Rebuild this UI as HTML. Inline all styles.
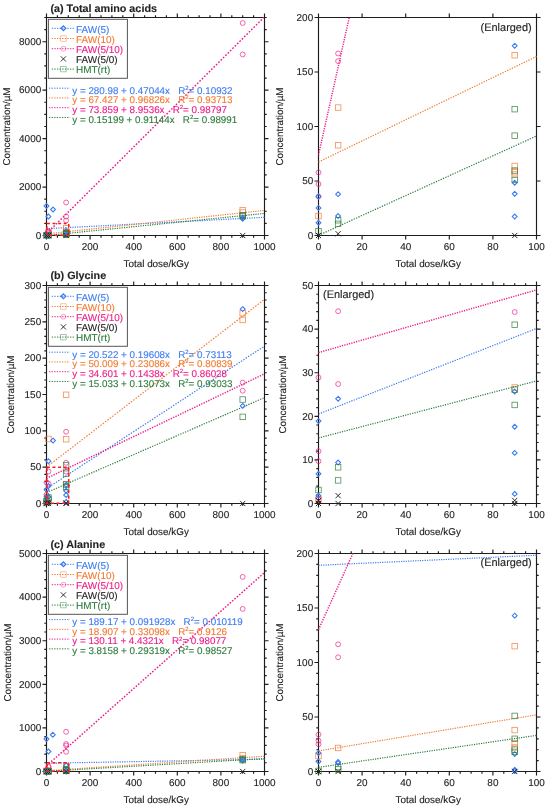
<!DOCTYPE html>
<html><head><meta charset="utf-8"><title>Figure</title>
<style>html,body{margin:0;padding:0;background:#fff;}svg{display:block;filter:blur(0.3px);font-family:"Liberation Sans", sans-serif;}</style>
</head><body>
<svg width="550" height="809" viewBox="0 0 550 809" style="font-family:&quot;Liberation Sans&quot;, sans-serif" font-size="9.95" fill="#222" color="#222">
<style>text{stroke:currentColor;stroke-width:0.12px;paint-order:stroke;text-rendering:geometricPrecision;}</style>
<rect width="550" height="809" fill="#fff"/>
<text x="50.4" y="11.8" font-weight="bold" font-size="10.8">(a) Total amino acids</text>
<path d="M46.5 235.5H264.5M46.5 17.5H264.5M46.5 235.5V17.5M264.5 235.5V17.5M46.5 235.5v4M46.5 17.5v-4M57.4 235.5v2.2M57.4 17.5v-2.2M68.3 235.5v2.2M68.3 17.5v-2.2M79.2 235.5v2.2M79.2 17.5v-2.2M90.1 235.5v4M90.1 17.5v-4M101 235.5v2.2M101 17.5v-2.2M111.9 235.5v2.2M111.9 17.5v-2.2M122.8 235.5v2.2M122.8 17.5v-2.2M133.7 235.5v4M133.7 17.5v-4M144.6 235.5v2.2M144.6 17.5v-2.2M155.5 235.5v2.2M155.5 17.5v-2.2M166.4 235.5v2.2M166.4 17.5v-2.2M177.3 235.5v4M177.3 17.5v-4M188.2 235.5v2.2M188.2 17.5v-2.2M199.1 235.5v2.2M199.1 17.5v-2.2M210 235.5v2.2M210 17.5v-2.2M220.9 235.5v4M220.9 17.5v-4M231.8 235.5v2.2M231.8 17.5v-2.2M242.7 235.5v2.2M242.7 17.5v-2.2M253.6 235.5v2.2M253.6 17.5v-2.2M264.5 235.5v4M264.5 17.5v-4M46.5 235.5h-4M264.5 235.5h4M46.5 223.39h-2.2M264.5 223.39h2.2M46.5 211.28h-2.2M264.5 211.28h2.2M46.5 199.17h-2.2M264.5 199.17h2.2M46.5 187.06h-4M264.5 187.06h4M46.5 174.94h-2.2M264.5 174.94h2.2M46.5 162.83h-2.2M264.5 162.83h2.2M46.5 150.72h-2.2M264.5 150.72h2.2M46.5 138.61h-4M264.5 138.61h4M46.5 126.5h-2.2M264.5 126.5h2.2M46.5 114.39h-2.2M264.5 114.39h2.2M46.5 102.28h-2.2M264.5 102.28h2.2M46.5 90.17h-4M264.5 90.17h4M46.5 78.06h-2.2M264.5 78.06h2.2M46.5 65.94h-2.2M264.5 65.94h2.2M46.5 53.83h-2.2M264.5 53.83h2.2M46.5 41.72h-4M264.5 41.72h4M46.5 29.61h-2.2M264.5 29.61h2.2M46.5 17.5h-2.2M264.5 17.5h2.2" stroke="#1c1c1c" stroke-width="1.15" fill="none"/>
<text x="46.5" y="250.1" text-anchor="middle">0</text>
<text x="90.1" y="250.1" text-anchor="middle">200</text>
<text x="133.7" y="250.1" text-anchor="middle">400</text>
<text x="177.3" y="250.1" text-anchor="middle">600</text>
<text x="220.9" y="250.1" text-anchor="middle">800</text>
<text x="264.5" y="250.1" text-anchor="middle">1000</text>
<text x="41.2" y="238.7" text-anchor="end">0</text>
<text x="41.2" y="190.26" text-anchor="end">2000</text>
<text x="41.2" y="141.81" text-anchor="end">4000</text>
<text x="41.2" y="93.37" text-anchor="end">6000</text>
<text x="41.2" y="44.92" text-anchor="end">8000</text>
<text x="156.2" y="266.6" text-anchor="middle" font-size="9.9">Total dose/kGy</text>
<text transform="translate(10.4 126.5) rotate(-90)" text-anchor="middle" font-size="9.9">Concentration/µM</text>
<line x1="46.5" y1="228.69" x2="264.5" y2="217.3" stroke="#3c7cf0" stroke-width="1.2" stroke-dasharray="1.18 1.18"/>
<line x1="46.5" y1="233.87" x2="264.5" y2="210.41" stroke="#f47a30" stroke-width="1.2" stroke-dasharray="1.18 1.18"/>
<line x1="46.5" y1="233.71" x2="263.83" y2="17.5" stroke="#ee1c88" stroke-width="1.45" stroke-dasharray="1.66 1.66"/>
<line x1="46.5" y1="235.5" x2="264.5" y2="213.42" stroke="#2c7c3c" stroke-width="1.2" stroke-dasharray="1.18 1.18"/>
<rect x="43.75" y="232.32" width="5.5" height="5.5" stroke="#f47a30" stroke-width="0.8" fill="none" opacity="0.85"/>
<rect x="45.71" y="229.91" width="5.5" height="5.5" stroke="#f47a30" stroke-width="0.8" fill="none" opacity="0.85"/>
<rect x="45.71" y="230.74" width="5.5" height="5.5" stroke="#f47a30" stroke-width="0.8" fill="none" opacity="0.85"/>
<rect x="63.37" y="228.74" width="5.5" height="5.5" stroke="#f47a30" stroke-width="0.8" fill="none" opacity="0.85"/>
<rect x="63.37" y="231.2" width="5.5" height="5.5" stroke="#f47a30" stroke-width="0.8" fill="none" opacity="0.85"/>
<rect x="63.37" y="231.35" width="5.5" height="5.5" stroke="#f47a30" stroke-width="0.8" fill="none" opacity="0.85"/>
<rect x="63.37" y="231.39" width="5.5" height="5.5" stroke="#f47a30" stroke-width="0.8" fill="none" opacity="0.85"/>
<rect x="63.37" y="225.48" width="5.5" height="5.5" stroke="#f47a30" stroke-width="0.8" fill="none" opacity="0.85"/>
<rect x="239.95" y="207.44" width="5.5" height="5.5" stroke="#f47a30" stroke-width="0.8" fill="none" opacity="0.85"/>
<rect x="239.95" y="209.74" width="5.5" height="5.5" stroke="#f47a30" stroke-width="0.8" fill="none" opacity="0.85"/>
<circle cx="46.5" cy="234.1" r="2.45" stroke="#ee1c88" stroke-width="0.8" fill="none" opacity="0.85"/>
<circle cx="46.5" cy="234.36" r="2.45" stroke="#ee1c88" stroke-width="0.8" fill="none" opacity="0.85"/>
<circle cx="46.5" cy="234.63" r="2.45" stroke="#ee1c88" stroke-width="0.8" fill="none" opacity="0.85"/>
<circle cx="48.46" cy="231.45" r="2.45" stroke="#ee1c88" stroke-width="0.8" fill="none" opacity="0.85"/>
<circle cx="48.46" cy="231.62" r="2.45" stroke="#ee1c88" stroke-width="0.8" fill="none" opacity="0.85"/>
<circle cx="66.12" cy="202.51" r="2.45" stroke="#ee1c88" stroke-width="0.8" fill="none" opacity="0.85"/>
<circle cx="66.12" cy="216.51" r="2.45" stroke="#ee1c88" stroke-width="0.8" fill="none" opacity="0.85"/>
<circle cx="66.12" cy="220.51" r="2.45" stroke="#ee1c88" stroke-width="0.8" fill="none" opacity="0.85"/>
<circle cx="242.7" cy="23" r="2.45" stroke="#ee1c88" stroke-width="0.8" fill="none" opacity="0.85"/>
<circle cx="242.7" cy="54.49" r="2.45" stroke="#ee1c88" stroke-width="0.8" fill="none" opacity="0.85"/>
<path d="M46.5 203.6l2.4 2.4l-2.4 2.4l-2.4 -2.4z" stroke="#3c7cf0" stroke-width="1.1" fill="none"/>
<path d="M46.5 232.23l2.4 2.4l-2.4 2.4l-2.4 -2.4z" stroke="#3c7cf0" stroke-width="1.1" fill="none"/>
<path d="M46.5 232.49l2.4 2.4l-2.4 2.4l-2.4 -2.4z" stroke="#3c7cf0" stroke-width="1.1" fill="none"/>
<path d="M46.5 232.82l2.4 2.4l-2.4 2.4l-2.4 -2.4z" stroke="#3c7cf0" stroke-width="1.1" fill="none"/>
<path d="M48.46 214.11l2.4 2.4l-2.4 2.4l-2.4 -2.4z" stroke="#3c7cf0" stroke-width="1.1" fill="none"/>
<path d="M48.46 232.18l2.4 2.4l-2.4 2.4l-2.4 -2.4z" stroke="#3c7cf0" stroke-width="1.1" fill="none"/>
<path d="M48.46 232.67l2.4 2.4l-2.4 2.4l-2.4 -2.4z" stroke="#3c7cf0" stroke-width="1.1" fill="none"/>
<path d="M53.04 207.11l2.4 2.4l-2.4 2.4l-2.4 -2.4z" stroke="#3c7cf0" stroke-width="1.1" fill="none"/>
<path d="M66.12 228.89l2.4 2.4l-2.4 2.4l-2.4 -2.4z" stroke="#3c7cf0" stroke-width="1.1" fill="none"/>
<path d="M66.12 231.93l2.4 2.4l-2.4 2.4l-2.4 -2.4z" stroke="#3c7cf0" stroke-width="1.1" fill="none"/>
<path d="M66.12 232.17l2.4 2.4l-2.4 2.4l-2.4 -2.4z" stroke="#3c7cf0" stroke-width="1.1" fill="none"/>
<path d="M66.12 232.68l2.4 2.4l-2.4 2.4l-2.4 -2.4z" stroke="#3c7cf0" stroke-width="1.1" fill="none"/>
<path d="M242.7 215.01l2.4 2.4l-2.4 2.4l-2.4 -2.4z" stroke="#3c7cf0" stroke-width="1.1" fill="none"/>
<path d="M242.7 216.39l2.4 2.4l-2.4 2.4l-2.4 -2.4z" stroke="#3c7cf0" stroke-width="1.1" fill="none"/>
<rect x="43.75" y="232.65" width="5.5" height="5.5" stroke="#2c7c3c" stroke-width="0.8" fill="none" opacity="0.85"/>
<rect x="45.71" y="232.41" width="5.5" height="5.5" stroke="#2c7c3c" stroke-width="0.8" fill="none" opacity="0.85"/>
<rect x="45.71" y="232.49" width="5.5" height="5.5" stroke="#2c7c3c" stroke-width="0.8" fill="none" opacity="0.85"/>
<rect x="63.37" y="229.94" width="5.5" height="5.5" stroke="#2c7c3c" stroke-width="0.8" fill="none" opacity="0.85"/>
<rect x="63.37" y="230.53" width="5.5" height="5.5" stroke="#2c7c3c" stroke-width="0.8" fill="none" opacity="0.85"/>
<rect x="63.37" y="231.31" width="5.5" height="5.5" stroke="#2c7c3c" stroke-width="0.8" fill="none" opacity="0.85"/>
<rect x="63.37" y="231.51" width="5.5" height="5.5" stroke="#2c7c3c" stroke-width="0.8" fill="none" opacity="0.85"/>
<rect x="239.95" y="212.45" width="5.5" height="5.5" stroke="#2c7c3c" stroke-width="0.8" fill="none" opacity="0.85"/>
<rect x="239.95" y="213.37" width="5.5" height="5.5" stroke="#2c7c3c" stroke-width="0.8" fill="none" opacity="0.85"/>
<path d="M43.9 232.9l5.2 5.2M43.9 238.1l5.2 -5.2" stroke="#222" stroke-width="0.95" fill="none"/>
<path d="M45.86 232.86l5.2 5.2M45.86 238.06l5.2 -5.2" stroke="#222" stroke-width="0.95" fill="none"/>
<path d="M63.52 232.9l5.2 5.2M63.52 238.1l5.2 -5.2" stroke="#222" stroke-width="0.95" fill="none"/>
<path d="M240.1 232.9l5.2 5.2M240.1 238.1l5.2 -5.2" stroke="#222" stroke-width="0.95" fill="none"/>
<path d="M46.9 223.39H68.74V235.3H46.9Z" stroke="#ff1a1a" stroke-width="1.5" fill="none" stroke-dasharray="3 2.6"/>
<rect x="48.4" y="19.3" width="79" height="59" fill="#fff" stroke="#555" stroke-width="1"/>
<line x1="51.8" y1="28.3" x2="74" y2="28.3" stroke="#3c7cf0" stroke-width="1" stroke-dasharray="1.3 1.3"/>
<path d="M63.4 25.9l2.4 2.4l-2.4 2.4l-2.4 -2.4z" stroke="#3c7cf0" stroke-width="1.3" fill="none"/>
<text x="76" y="32.6" fill="#3c7cf0" color="#3c7cf0">FAW(5)</text>
<line x1="51.8" y1="38.5" x2="74" y2="38.5" stroke="#f47a30" stroke-width="1" stroke-dasharray="1.3 1.3"/>
<rect x="60.65" y="35.75" width="5.5" height="5.5" stroke="#f47a30" stroke-width="0.7" fill="none" opacity="0.6"/>
<text x="76" y="42.8" fill="#f47a30" color="#f47a30">FAW(10)</text>
<line x1="51.8" y1="48.7" x2="74" y2="48.7" stroke="#ee1c88" stroke-width="1" stroke-dasharray="1.3 1.3"/>
<circle cx="63.4" cy="48.7" r="2.45" stroke="#ee1c88" stroke-width="0.7" fill="none" opacity="0.6"/>
<text x="76" y="53" fill="#ee1c88" color="#ee1c88">FAW(5/10)</text>
<path d="M60.8 56.3l5.2 5.2M60.8 61.5l5.2 -5.2" stroke="#222" stroke-width="0.9" fill="none"/>
<text x="76" y="63.2" fill="#222" color="#222">FAW(5/0)</text>
<line x1="51.8" y1="69.1" x2="74" y2="69.1" stroke="#2c7c3c" stroke-width="1" stroke-dasharray="1.3 1.3"/>
<rect x="60.65" y="66.35" width="5.5" height="5.5" stroke="#2c7c3c" stroke-width="0.7" fill="none" opacity="0.6"/>
<text x="76" y="73.4" fill="#2c7c3c" color="#2c7c3c">HMT(rt)</text>
<line x1="49" y1="88.2" x2="70" y2="88.2" stroke="#3c7cf0" stroke-width="1" stroke-dasharray="1.3 1.3"/>
<text x="72.3" y="93.5" fill="#3c7cf0" color="#3c7cf0" font-size="9.82" xml:space="preserve">y = 280.98 + 0.47044x   R<tspan font-size="6" dy="-3.9">2</tspan><tspan dy="3.9">= 0.10932</tspan></text>
<line x1="49" y1="97.95" x2="70" y2="97.95" stroke="#f47a30" stroke-width="1" stroke-dasharray="1.3 1.3"/>
<text x="72.3" y="103.25" fill="#f47a30" color="#f47a30" font-size="9.82" xml:space="preserve">y = 67.427 + 0.96826x   R<tspan font-size="6" dy="-3.9">2</tspan><tspan dy="3.9">= 0.93713</tspan></text>
<line x1="49" y1="107.7" x2="70" y2="107.7" stroke="#ee1c88" stroke-width="1" stroke-dasharray="1.3 1.3"/>
<text x="72.3" y="113" fill="#ee1c88" color="#ee1c88" font-size="9.82" xml:space="preserve">y = 73.859 + 8.9536x   R<tspan font-size="6" dy="-3.9">2</tspan><tspan dy="3.9">= 0.98797</tspan></text>
<line x1="49" y1="117.45" x2="70" y2="117.45" stroke="#2c7c3c" stroke-width="1" stroke-dasharray="1.3 1.3"/>
<text x="72.3" y="122.75" fill="#2c7c3c" color="#2c7c3c" font-size="9.82" xml:space="preserve">y = 0.15199 + 0.91144x   R<tspan font-size="6" dy="-3.9">2</tspan><tspan dy="3.9">= 0.98991</tspan></text>
<path d="M318.5 235.5H536.5M318.5 17.5H536.5M318.5 235.5V17.5M536.5 235.5V17.5M318.5 235.5v4M318.5 17.5v-4M362.1 235.5v4M362.1 17.5v-4M405.7 235.5v4M405.7 17.5v-4M449.3 235.5v4M449.3 17.5v-4M492.9 235.5v4M492.9 17.5v-4M536.5 235.5v4M536.5 17.5v-4M318.5 235.5h-4M536.5 235.5h4M318.5 181h-4M536.5 181h4M318.5 126.5h-4M536.5 126.5h4M318.5 72h-4M536.5 72h4M318.5 17.5h-4M536.5 17.5h4" stroke="#1c1c1c" stroke-width="1.15" fill="none"/>
<text x="318.5" y="250.1" text-anchor="middle">0</text>
<text x="362.1" y="250.1" text-anchor="middle">20</text>
<text x="405.7" y="250.1" text-anchor="middle">40</text>
<text x="449.3" y="250.1" text-anchor="middle">60</text>
<text x="492.9" y="250.1" text-anchor="middle">80</text>
<text x="536.5" y="250.1" text-anchor="middle">100</text>
<text x="313.2" y="238.7" text-anchor="end">0</text>
<text x="313.2" y="184.2" text-anchor="end">50</text>
<text x="313.2" y="129.7" text-anchor="end">100</text>
<text x="313.2" y="75.2" text-anchor="end">150</text>
<text x="313.2" y="20.7" text-anchor="end">200</text>
<text x="428.2" y="266.6" text-anchor="middle" font-size="9.9">Total dose/kGy</text>
<text transform="translate(282.5 126.5) rotate(-90)" text-anchor="middle" font-size="9.9">Concentration/µM</text>
<line x1="318.5" y1="162" x2="536.5" y2="56.46" stroke="#f47a30" stroke-width="1.2" stroke-dasharray="1.31 1.31"/>
<line x1="318.5" y1="154.99" x2="349.21" y2="17.5" stroke="#ee1c88" stroke-width="1.45" stroke-dasharray="1.2 1.2"/>
<line x1="318.5" y1="235.33" x2="536.5" y2="135.99" stroke="#2c7c3c" stroke-width="1.2" stroke-dasharray="1.29 1.29"/>
<rect x="315.75" y="213.24" width="5.5" height="5.5" stroke="#f47a30" stroke-width="0.8" fill="none" opacity="0.85"/>
<rect x="335.37" y="104.78" width="5.5" height="5.5" stroke="#f47a30" stroke-width="0.8" fill="none" opacity="0.85"/>
<rect x="335.37" y="142.5" width="5.5" height="5.5" stroke="#f47a30" stroke-width="0.8" fill="none" opacity="0.85"/>
<rect x="511.95" y="52.46" width="5.5" height="5.5" stroke="#f47a30" stroke-width="0.8" fill="none" opacity="0.85"/>
<rect x="511.95" y="163.21" width="5.5" height="5.5" stroke="#f47a30" stroke-width="0.8" fill="none" opacity="0.85"/>
<rect x="511.95" y="169.53" width="5.5" height="5.5" stroke="#f47a30" stroke-width="0.8" fill="none" opacity="0.85"/>
<rect x="511.95" y="171.71" width="5.5" height="5.5" stroke="#f47a30" stroke-width="0.8" fill="none" opacity="0.85"/>
<circle cx="318.5" cy="172.39" r="2.45" stroke="#ee1c88" stroke-width="0.8" fill="none" opacity="0.85"/>
<circle cx="318.5" cy="184.05" r="2.45" stroke="#ee1c88" stroke-width="0.8" fill="none" opacity="0.85"/>
<circle cx="318.5" cy="196.48" r="2.45" stroke="#ee1c88" stroke-width="0.8" fill="none" opacity="0.85"/>
<circle cx="338.12" cy="53.47" r="2.45" stroke="#ee1c88" stroke-width="0.8" fill="none" opacity="0.85"/>
<circle cx="338.12" cy="61.1" r="2.45" stroke="#ee1c88" stroke-width="0.8" fill="none" opacity="0.85"/>
<path d="M318.5 194.08l2.4 2.4l-2.4 2.4l-2.4 -2.4z" stroke="#3c7cf0" stroke-width="1.1" fill="none"/>
<path d="M318.5 205.52l2.4 2.4l-2.4 2.4l-2.4 -2.4z" stroke="#3c7cf0" stroke-width="1.1" fill="none"/>
<path d="M318.5 220.35l2.4 2.4l-2.4 2.4l-2.4 -2.4z" stroke="#3c7cf0" stroke-width="1.1" fill="none"/>
<path d="M338.12 191.79l2.4 2.4l-2.4 2.4l-2.4 -2.4z" stroke="#3c7cf0" stroke-width="1.1" fill="none"/>
<path d="M338.12 213.59l2.4 2.4l-2.4 2.4l-2.4 -2.4z" stroke="#3c7cf0" stroke-width="1.1" fill="none"/>
<path d="M514.7 43.44l2.4 2.4l-2.4 2.4l-2.4 -2.4z" stroke="#3c7cf0" stroke-width="1.1" fill="none"/>
<path d="M514.7 180.34l2.4 2.4l-2.4 2.4l-2.4 -2.4z" stroke="#3c7cf0" stroke-width="1.1" fill="none"/>
<path d="M514.7 191.46l2.4 2.4l-2.4 2.4l-2.4 -2.4z" stroke="#3c7cf0" stroke-width="1.1" fill="none"/>
<path d="M514.7 214.13l2.4 2.4l-2.4 2.4l-2.4 -2.4z" stroke="#3c7cf0" stroke-width="1.1" fill="none"/>
<rect x="315.75" y="228.39" width="5.5" height="5.5" stroke="#2c7c3c" stroke-width="0.8" fill="none" opacity="0.85"/>
<rect x="335.37" y="217.49" width="5.5" height="5.5" stroke="#2c7c3c" stroke-width="0.8" fill="none" opacity="0.85"/>
<rect x="335.37" y="221.09" width="5.5" height="5.5" stroke="#2c7c3c" stroke-width="0.8" fill="none" opacity="0.85"/>
<rect x="511.95" y="106.42" width="5.5" height="5.5" stroke="#2c7c3c" stroke-width="0.8" fill="none" opacity="0.85"/>
<rect x="511.95" y="132.91" width="5.5" height="5.5" stroke="#2c7c3c" stroke-width="0.8" fill="none" opacity="0.85"/>
<rect x="511.95" y="167.79" width="5.5" height="5.5" stroke="#2c7c3c" stroke-width="0.8" fill="none" opacity="0.85"/>
<rect x="511.95" y="177.16" width="5.5" height="5.5" stroke="#2c7c3c" stroke-width="0.8" fill="none" opacity="0.85"/>
<path d="M315.9 232.9l5.2 5.2M315.9 238.1l5.2 -5.2" stroke="#222" stroke-width="0.95" fill="none"/>
<path d="M335.52 231.16l5.2 5.2M335.52 236.36l5.2 -5.2" stroke="#222" stroke-width="0.95" fill="none"/>
<path d="M512.1 232.9l5.2 5.2M512.1 238.1l5.2 -5.2" stroke="#222" stroke-width="0.95" fill="none"/>
<text x="480.6" y="30.5" font-size="10.95">(Enlarged)</text>
<text x="50.4" y="279.4" font-weight="bold" font-size="10.8">(b) Glycine</text>
<path d="M46.5 503.5H264.5M46.5 285.5H264.5M46.5 503.5V285.5M264.5 503.5V285.5M46.5 503.5v4M46.5 285.5v-4M57.4 503.5v2.2M57.4 285.5v-2.2M68.3 503.5v2.2M68.3 285.5v-2.2M79.2 503.5v2.2M79.2 285.5v-2.2M90.1 503.5v4M90.1 285.5v-4M101 503.5v2.2M101 285.5v-2.2M111.9 503.5v2.2M111.9 285.5v-2.2M122.8 503.5v2.2M122.8 285.5v-2.2M133.7 503.5v4M133.7 285.5v-4M144.6 503.5v2.2M144.6 285.5v-2.2M155.5 503.5v2.2M155.5 285.5v-2.2M166.4 503.5v2.2M166.4 285.5v-2.2M177.3 503.5v4M177.3 285.5v-4M188.2 503.5v2.2M188.2 285.5v-2.2M199.1 503.5v2.2M199.1 285.5v-2.2M210 503.5v2.2M210 285.5v-2.2M220.9 503.5v4M220.9 285.5v-4M231.8 503.5v2.2M231.8 285.5v-2.2M242.7 503.5v2.2M242.7 285.5v-2.2M253.6 503.5v2.2M253.6 285.5v-2.2M264.5 503.5v4M264.5 285.5v-4M46.5 503.5h-4M264.5 503.5h4M46.5 496.23h-2.2M264.5 496.23h2.2M46.5 488.97h-2.2M264.5 488.97h2.2M46.5 481.7h-2.2M264.5 481.7h2.2M46.5 474.43h-2.2M264.5 474.43h2.2M46.5 467.17h-4M264.5 467.17h4M46.5 459.9h-2.2M264.5 459.9h2.2M46.5 452.63h-2.2M264.5 452.63h2.2M46.5 445.37h-2.2M264.5 445.37h2.2M46.5 438.1h-2.2M264.5 438.1h2.2M46.5 430.83h-4M264.5 430.83h4M46.5 423.57h-2.2M264.5 423.57h2.2M46.5 416.3h-2.2M264.5 416.3h2.2M46.5 409.03h-2.2M264.5 409.03h2.2M46.5 401.77h-2.2M264.5 401.77h2.2M46.5 394.5h-4M264.5 394.5h4M46.5 387.23h-2.2M264.5 387.23h2.2M46.5 379.97h-2.2M264.5 379.97h2.2M46.5 372.7h-2.2M264.5 372.7h2.2M46.5 365.43h-2.2M264.5 365.43h2.2M46.5 358.17h-4M264.5 358.17h4M46.5 350.9h-2.2M264.5 350.9h2.2M46.5 343.63h-2.2M264.5 343.63h2.2M46.5 336.37h-2.2M264.5 336.37h2.2M46.5 329.1h-2.2M264.5 329.1h2.2M46.5 321.83h-4M264.5 321.83h4M46.5 314.57h-2.2M264.5 314.57h2.2M46.5 307.3h-2.2M264.5 307.3h2.2M46.5 300.03h-2.2M264.5 300.03h2.2M46.5 292.77h-2.2M264.5 292.77h2.2M46.5 285.5h-4M264.5 285.5h4" stroke="#1c1c1c" stroke-width="1.15" fill="none"/>
<text x="46.5" y="518.1" text-anchor="middle">0</text>
<text x="90.1" y="518.1" text-anchor="middle">200</text>
<text x="133.7" y="518.1" text-anchor="middle">400</text>
<text x="177.3" y="518.1" text-anchor="middle">600</text>
<text x="220.9" y="518.1" text-anchor="middle">800</text>
<text x="264.5" y="518.1" text-anchor="middle">1000</text>
<text x="41.2" y="506.7" text-anchor="end">0</text>
<text x="41.2" y="470.37" text-anchor="end">50</text>
<text x="41.2" y="434.03" text-anchor="end">100</text>
<text x="41.2" y="397.7" text-anchor="end">150</text>
<text x="41.2" y="361.37" text-anchor="end">200</text>
<text x="41.2" y="325.03" text-anchor="end">250</text>
<text x="41.2" y="288.7" text-anchor="end">300</text>
<text x="156.2" y="534.6" text-anchor="middle" font-size="9.9">Total dose/kGy</text>
<text transform="translate(14.2 394.5) rotate(-90)" text-anchor="middle" font-size="9.9">Concentration/µM</text>
<line x1="46.5" y1="488.59" x2="264.5" y2="346.1" stroke="#3c7cf0" stroke-width="1.2" stroke-dasharray="1.4 1.4"/>
<line x1="46.5" y1="467.16" x2="264.5" y2="299.4" stroke="#f47a30" stroke-width="1.2" stroke-dasharray="1.48 1.48"/>
<line x1="46.5" y1="478.36" x2="264.5" y2="373.86" stroke="#ee1c88" stroke-width="1.45" stroke-dasharray="1.3 1.3"/>
<line x1="46.5" y1="492.58" x2="264.5" y2="397.58" stroke="#2c7c3c" stroke-width="1.2" stroke-dasharray="1.28 1.28"/>
<rect x="43.75" y="500.1" width="5.5" height="5.5" stroke="#f47a30" stroke-width="0.8" fill="none" opacity="0.85"/>
<rect x="45.71" y="436.22" width="5.5" height="5.5" stroke="#f47a30" stroke-width="0.8" fill="none" opacity="0.85"/>
<rect x="63.37" y="481.42" width="5.5" height="5.5" stroke="#f47a30" stroke-width="0.8" fill="none" opacity="0.85"/>
<rect x="63.37" y="436.44" width="5.5" height="5.5" stroke="#f47a30" stroke-width="0.8" fill="none" opacity="0.85"/>
<rect x="63.37" y="392.04" width="5.5" height="5.5" stroke="#f47a30" stroke-width="0.8" fill="none" opacity="0.85"/>
<rect x="239.95" y="310.44" width="5.5" height="5.5" stroke="#f47a30" stroke-width="0.8" fill="none" opacity="0.85"/>
<rect x="239.95" y="317.19" width="5.5" height="5.5" stroke="#f47a30" stroke-width="0.8" fill="none" opacity="0.85"/>
<circle cx="46.5" cy="482.5" r="2.45" stroke="#ee1c88" stroke-width="0.8" fill="none" opacity="0.85"/>
<circle cx="46.5" cy="494.78" r="2.45" stroke="#ee1c88" stroke-width="0.8" fill="none" opacity="0.85"/>
<circle cx="46.5" cy="496.45" r="2.45" stroke="#ee1c88" stroke-width="0.8" fill="none" opacity="0.85"/>
<circle cx="46.5" cy="502.63" r="2.45" stroke="#ee1c88" stroke-width="0.8" fill="none" opacity="0.85"/>
<circle cx="48.46" cy="471.45" r="2.45" stroke="#ee1c88" stroke-width="0.8" fill="none" opacity="0.85"/>
<circle cx="48.46" cy="483.59" r="2.45" stroke="#ee1c88" stroke-width="0.8" fill="none" opacity="0.85"/>
<circle cx="66.12" cy="471.6" r="2.45" stroke="#ee1c88" stroke-width="0.8" fill="none" opacity="0.85"/>
<circle cx="66.12" cy="431.71" r="2.45" stroke="#ee1c88" stroke-width="0.8" fill="none" opacity="0.85"/>
<circle cx="66.12" cy="462.81" r="2.45" stroke="#ee1c88" stroke-width="0.8" fill="none" opacity="0.85"/>
<circle cx="242.7" cy="382.58" r="2.45" stroke="#ee1c88" stroke-width="0.8" fill="none" opacity="0.85"/>
<circle cx="242.7" cy="390.72" r="2.45" stroke="#ee1c88" stroke-width="0.8" fill="none" opacity="0.85"/>
<path d="M46.5 487.37l2.4 2.4l-2.4 2.4l-2.4 -2.4z" stroke="#3c7cf0" stroke-width="1.1" fill="none"/>
<path d="M46.5 496.16l2.4 2.4l-2.4 2.4l-2.4 -2.4z" stroke="#3c7cf0" stroke-width="1.1" fill="none"/>
<path d="M46.5 499.79l2.4 2.4l-2.4 2.4l-2.4 -2.4z" stroke="#3c7cf0" stroke-width="1.1" fill="none"/>
<path d="M48.46 483.66l2.4 2.4l-2.4 2.4l-2.4 -2.4z" stroke="#3c7cf0" stroke-width="1.1" fill="none"/>
<path d="M48.46 494.27l2.4 2.4l-2.4 2.4l-2.4 -2.4z" stroke="#3c7cf0" stroke-width="1.1" fill="none"/>
<path d="M48.46 458.81l2.4 2.4l-2.4 2.4l-2.4 -2.4z" stroke="#3c7cf0" stroke-width="1.1" fill="none"/>
<path d="M53.04 438.17l2.4 2.4l-2.4 2.4l-2.4 -2.4z" stroke="#3c7cf0" stroke-width="1.1" fill="none"/>
<path d="M66.12 482.42l2.4 2.4l-2.4 2.4l-2.4 -2.4z" stroke="#3c7cf0" stroke-width="1.1" fill="none"/>
<path d="M66.12 488.31l2.4 2.4l-2.4 2.4l-2.4 -2.4z" stroke="#3c7cf0" stroke-width="1.1" fill="none"/>
<path d="M66.12 492.67l2.4 2.4l-2.4 2.4l-2.4 -2.4z" stroke="#3c7cf0" stroke-width="1.1" fill="none"/>
<path d="M66.12 499.5l2.4 2.4l-2.4 2.4l-2.4 -2.4z" stroke="#3c7cf0" stroke-width="1.1" fill="none"/>
<path d="M242.7 306.72l2.4 2.4l-2.4 2.4l-2.4 -2.4z" stroke="#3c7cf0" stroke-width="1.1" fill="none"/>
<path d="M242.7 403.51l2.4 2.4l-2.4 2.4l-2.4 -2.4z" stroke="#3c7cf0" stroke-width="1.1" fill="none"/>
<rect x="43.75" y="498.5" width="5.5" height="5.5" stroke="#2c7c3c" stroke-width="0.8" fill="none" opacity="0.85"/>
<rect x="45.71" y="494.72" width="5.5" height="5.5" stroke="#2c7c3c" stroke-width="0.8" fill="none" opacity="0.85"/>
<rect x="45.71" y="496.9" width="5.5" height="5.5" stroke="#2c7c3c" stroke-width="0.8" fill="none" opacity="0.85"/>
<rect x="63.37" y="462.6" width="5.5" height="5.5" stroke="#2c7c3c" stroke-width="0.8" fill="none" opacity="0.85"/>
<rect x="63.37" y="470.96" width="5.5" height="5.5" stroke="#2c7c3c" stroke-width="0.8" fill="none" opacity="0.85"/>
<rect x="63.37" y="481.78" width="5.5" height="5.5" stroke="#2c7c3c" stroke-width="0.8" fill="none" opacity="0.85"/>
<rect x="63.37" y="484.33" width="5.5" height="5.5" stroke="#2c7c3c" stroke-width="0.8" fill="none" opacity="0.85"/>
<rect x="239.95" y="396.76" width="5.5" height="5.5" stroke="#2c7c3c" stroke-width="0.8" fill="none" opacity="0.85"/>
<rect x="239.95" y="414.13" width="5.5" height="5.5" stroke="#2c7c3c" stroke-width="0.8" fill="none" opacity="0.85"/>
<path d="M43.9 500.9l5.2 5.2M43.9 506.1l5.2 -5.2" stroke="#222" stroke-width="0.95" fill="none"/>
<path d="M43.9 500.39l5.2 5.2M43.9 505.59l5.2 -5.2" stroke="#222" stroke-width="0.95" fill="none"/>
<path d="M45.86 499.59l5.2 5.2M45.86 504.79l5.2 -5.2" stroke="#222" stroke-width="0.95" fill="none"/>
<path d="M45.86 500.9l5.2 5.2M45.86 506.1l5.2 -5.2" stroke="#222" stroke-width="0.95" fill="none"/>
<path d="M63.52 500.9l5.2 5.2M63.52 506.1l5.2 -5.2" stroke="#222" stroke-width="0.95" fill="none"/>
<path d="M63.52 500.39l5.2 5.2M63.52 505.59l5.2 -5.2" stroke="#222" stroke-width="0.95" fill="none"/>
<path d="M240.1 500.9l5.2 5.2M240.1 506.1l5.2 -5.2" stroke="#222" stroke-width="0.95" fill="none"/>
<path d="M46.9 467.17H68.74V503.3H46.9Z" stroke="#ff1a1a" stroke-width="1.5" fill="none" stroke-dasharray="3 2.6"/>
<rect x="48.4" y="287.3" width="79" height="59" fill="#fff" stroke="#555" stroke-width="1"/>
<line x1="51.8" y1="296.3" x2="74" y2="296.3" stroke="#3c7cf0" stroke-width="1" stroke-dasharray="1.3 1.3"/>
<path d="M63.4 293.9l2.4 2.4l-2.4 2.4l-2.4 -2.4z" stroke="#3c7cf0" stroke-width="1.3" fill="none"/>
<text x="76" y="300.6" fill="#3c7cf0" color="#3c7cf0">FAW(5)</text>
<line x1="51.8" y1="306.5" x2="74" y2="306.5" stroke="#f47a30" stroke-width="1" stroke-dasharray="1.3 1.3"/>
<rect x="60.65" y="303.75" width="5.5" height="5.5" stroke="#f47a30" stroke-width="0.7" fill="none" opacity="0.6"/>
<text x="76" y="310.8" fill="#f47a30" color="#f47a30">FAW(10)</text>
<line x1="51.8" y1="316.7" x2="74" y2="316.7" stroke="#ee1c88" stroke-width="1" stroke-dasharray="1.3 1.3"/>
<circle cx="63.4" cy="316.7" r="2.45" stroke="#ee1c88" stroke-width="0.7" fill="none" opacity="0.6"/>
<text x="76" y="321" fill="#ee1c88" color="#ee1c88">FAW(5/10)</text>
<path d="M60.8 324.3l5.2 5.2M60.8 329.5l5.2 -5.2" stroke="#222" stroke-width="0.9" fill="none"/>
<text x="76" y="331.2" fill="#222" color="#222">FAW(5/0)</text>
<line x1="51.8" y1="337.1" x2="74" y2="337.1" stroke="#2c7c3c" stroke-width="1" stroke-dasharray="1.3 1.3"/>
<rect x="60.65" y="334.35" width="5.5" height="5.5" stroke="#2c7c3c" stroke-width="0.7" fill="none" opacity="0.6"/>
<text x="76" y="341.4" fill="#2c7c3c" color="#2c7c3c">HMT(rt)</text>
<line x1="49" y1="352.2" x2="70" y2="352.2" stroke="#3c7cf0" stroke-width="1" stroke-dasharray="1.3 1.3"/>
<text x="72.3" y="357.5" fill="#3c7cf0" color="#3c7cf0" font-size="9.82" xml:space="preserve">y = 20.522 + 0.19608x   R<tspan font-size="6" dy="-3.9">2</tspan><tspan dy="3.9">= 0.73113</tspan></text>
<line x1="49" y1="361.95" x2="70" y2="361.95" stroke="#f47a30" stroke-width="1" stroke-dasharray="1.3 1.3"/>
<text x="72.3" y="367.25" fill="#f47a30" color="#f47a30" font-size="9.82" xml:space="preserve">y = 50.009 + 0.23086x   R<tspan font-size="6" dy="-3.9">2</tspan><tspan dy="3.9">= 0.80839</tspan></text>
<line x1="49" y1="371.7" x2="70" y2="371.7" stroke="#ee1c88" stroke-width="1" stroke-dasharray="1.3 1.3"/>
<text x="72.3" y="377" fill="#ee1c88" color="#ee1c88" font-size="9.82" xml:space="preserve">y = 34.601 + 0.1438x   R<tspan font-size="6" dy="-3.9">2</tspan><tspan dy="3.9">= 0.86028</tspan></text>
<line x1="49" y1="381.45" x2="70" y2="381.45" stroke="#2c7c3c" stroke-width="1" stroke-dasharray="1.3 1.3"/>
<text x="72.3" y="386.75" fill="#2c7c3c" color="#2c7c3c" font-size="9.82" xml:space="preserve">y = 15.033 + 0.13073x   R<tspan font-size="6" dy="-3.9">2</tspan><tspan dy="3.9">= 0.93033</tspan></text>
<path d="M318.5 503.5H536.5M318.5 285.5H536.5M318.5 503.5V285.5M536.5 503.5V285.5M318.5 503.5v4M318.5 285.5v-4M329.4 503.5v2.2M329.4 285.5v-2.2M340.3 503.5v2.2M340.3 285.5v-2.2M351.2 503.5v2.2M351.2 285.5v-2.2M362.1 503.5v4M362.1 285.5v-4M373 503.5v2.2M373 285.5v-2.2M383.9 503.5v2.2M383.9 285.5v-2.2M394.8 503.5v2.2M394.8 285.5v-2.2M405.7 503.5v4M405.7 285.5v-4M416.6 503.5v2.2M416.6 285.5v-2.2M427.5 503.5v2.2M427.5 285.5v-2.2M438.4 503.5v2.2M438.4 285.5v-2.2M449.3 503.5v4M449.3 285.5v-4M460.2 503.5v2.2M460.2 285.5v-2.2M471.1 503.5v2.2M471.1 285.5v-2.2M482 503.5v2.2M482 285.5v-2.2M492.9 503.5v4M492.9 285.5v-4M503.8 503.5v2.2M503.8 285.5v-2.2M514.7 503.5v2.2M514.7 285.5v-2.2M525.6 503.5v2.2M525.6 285.5v-2.2M536.5 503.5v4M536.5 285.5v-4M318.5 503.5h-4M536.5 503.5h4M318.5 494.78h-2.2M536.5 494.78h2.2M318.5 486.06h-2.2M536.5 486.06h2.2M318.5 477.34h-2.2M536.5 477.34h2.2M318.5 468.62h-2.2M536.5 468.62h2.2M318.5 459.9h-4M536.5 459.9h4M318.5 451.18h-2.2M536.5 451.18h2.2M318.5 442.46h-2.2M536.5 442.46h2.2M318.5 433.74h-2.2M536.5 433.74h2.2M318.5 425.02h-2.2M536.5 425.02h2.2M318.5 416.3h-4M536.5 416.3h4M318.5 407.58h-2.2M536.5 407.58h2.2M318.5 398.86h-2.2M536.5 398.86h2.2M318.5 390.14h-2.2M536.5 390.14h2.2M318.5 381.42h-2.2M536.5 381.42h2.2M318.5 372.7h-4M536.5 372.7h4M318.5 363.98h-2.2M536.5 363.98h2.2M318.5 355.26h-2.2M536.5 355.26h2.2M318.5 346.54h-2.2M536.5 346.54h2.2M318.5 337.82h-2.2M536.5 337.82h2.2M318.5 329.1h-4M536.5 329.1h4M318.5 320.38h-2.2M536.5 320.38h2.2M318.5 311.66h-2.2M536.5 311.66h2.2M318.5 302.94h-2.2M536.5 302.94h2.2M318.5 294.22h-2.2M536.5 294.22h2.2M318.5 285.5h-4M536.5 285.5h4" stroke="#1c1c1c" stroke-width="1.15" fill="none"/>
<text x="318.5" y="518.1" text-anchor="middle">0</text>
<text x="362.1" y="518.1" text-anchor="middle">20</text>
<text x="405.7" y="518.1" text-anchor="middle">40</text>
<text x="449.3" y="518.1" text-anchor="middle">60</text>
<text x="492.9" y="518.1" text-anchor="middle">80</text>
<text x="536.5" y="518.1" text-anchor="middle">100</text>
<text x="313.2" y="506.7" text-anchor="end">0</text>
<text x="313.2" y="463.1" text-anchor="end">10</text>
<text x="313.2" y="419.5" text-anchor="end">20</text>
<text x="313.2" y="375.9" text-anchor="end">30</text>
<text x="313.2" y="332.3" text-anchor="end">40</text>
<text x="313.2" y="288.7" text-anchor="end">50</text>
<text x="428.2" y="534.6" text-anchor="middle" font-size="9.9">Total dose/kGy</text>
<text transform="translate(286.4 394.5) rotate(-90)" text-anchor="middle" font-size="9.9">Concentration/µM</text>
<line x1="318.5" y1="414.02" x2="536.5" y2="328.53" stroke="#3c7cf0" stroke-width="1.2" stroke-dasharray="1.26 1.26"/>
<line x1="318.5" y1="352.64" x2="536.5" y2="289.94" stroke="#ee1c88" stroke-width="1.45" stroke-dasharray="1.22 1.22"/>
<line x1="318.5" y1="437.96" x2="536.5" y2="380.96" stroke="#2c7c3c" stroke-width="1.2" stroke-dasharray="1.21 1.21"/>
<rect x="315.75" y="496.83" width="5.5" height="5.5" stroke="#f47a30" stroke-width="0.8" fill="none" opacity="0.85"/>
<rect x="511.95" y="384.77" width="5.5" height="5.5" stroke="#f47a30" stroke-width="0.8" fill="none" opacity="0.85"/>
<circle cx="318.5" cy="377.5" r="2.45" stroke="#ee1c88" stroke-width="0.8" fill="none" opacity="0.85"/>
<circle cx="318.5" cy="451.18" r="2.45" stroke="#ee1c88" stroke-width="0.8" fill="none" opacity="0.85"/>
<circle cx="318.5" cy="461.21" r="2.45" stroke="#ee1c88" stroke-width="0.8" fill="none" opacity="0.85"/>
<circle cx="318.5" cy="498.27" r="2.45" stroke="#ee1c88" stroke-width="0.8" fill="none" opacity="0.85"/>
<circle cx="338.12" cy="311.22" r="2.45" stroke="#ee1c88" stroke-width="0.8" fill="none" opacity="0.85"/>
<circle cx="338.12" cy="384.04" r="2.45" stroke="#ee1c88" stroke-width="0.8" fill="none" opacity="0.85"/>
<circle cx="514.7" cy="312.1" r="2.45" stroke="#ee1c88" stroke-width="0.8" fill="none" opacity="0.85"/>
<path d="M318.5 418.7l2.4 2.4l-2.4 2.4l-2.4 -2.4z" stroke="#3c7cf0" stroke-width="1.1" fill="none"/>
<path d="M318.5 471.45l2.4 2.4l-2.4 2.4l-2.4 -2.4z" stroke="#3c7cf0" stroke-width="1.1" fill="none"/>
<path d="M318.5 493.25l2.4 2.4l-2.4 2.4l-2.4 -2.4z" stroke="#3c7cf0" stroke-width="1.1" fill="none"/>
<path d="M338.12 396.46l2.4 2.4l-2.4 2.4l-2.4 -2.4z" stroke="#3c7cf0" stroke-width="1.1" fill="none"/>
<path d="M338.12 460.12l2.4 2.4l-2.4 2.4l-2.4 -2.4z" stroke="#3c7cf0" stroke-width="1.1" fill="none"/>
<path d="M514.7 389.05l2.4 2.4l-2.4 2.4l-2.4 -2.4z" stroke="#3c7cf0" stroke-width="1.1" fill="none"/>
<path d="M514.7 424.36l2.4 2.4l-2.4 2.4l-2.4 -2.4z" stroke="#3c7cf0" stroke-width="1.1" fill="none"/>
<path d="M514.7 450.52l2.4 2.4l-2.4 2.4l-2.4 -2.4z" stroke="#3c7cf0" stroke-width="1.1" fill="none"/>
<path d="M514.7 491.51l2.4 2.4l-2.4 2.4l-2.4 -2.4z" stroke="#3c7cf0" stroke-width="1.1" fill="none"/>
<rect x="315.75" y="487.23" width="5.5" height="5.5" stroke="#2c7c3c" stroke-width="0.8" fill="none" opacity="0.85"/>
<rect x="335.37" y="464.56" width="5.5" height="5.5" stroke="#2c7c3c" stroke-width="0.8" fill="none" opacity="0.85"/>
<rect x="335.37" y="477.64" width="5.5" height="5.5" stroke="#2c7c3c" stroke-width="0.8" fill="none" opacity="0.85"/>
<rect x="511.95" y="321.99" width="5.5" height="5.5" stroke="#2c7c3c" stroke-width="0.8" fill="none" opacity="0.85"/>
<rect x="511.95" y="386.95" width="5.5" height="5.5" stroke="#2c7c3c" stroke-width="0.8" fill="none" opacity="0.85"/>
<rect x="511.95" y="402.21" width="5.5" height="5.5" stroke="#2c7c3c" stroke-width="0.8" fill="none" opacity="0.85"/>
<path d="M315.9 500.9l5.2 5.2M315.9 506.1l5.2 -5.2" stroke="#222" stroke-width="0.95" fill="none"/>
<path d="M315.9 497.85l5.2 5.2M315.9 503.05l5.2 -5.2" stroke="#222" stroke-width="0.95" fill="none"/>
<path d="M335.52 493.05l5.2 5.2M335.52 498.25l5.2 -5.2" stroke="#222" stroke-width="0.95" fill="none"/>
<path d="M335.52 500.9l5.2 5.2M335.52 506.1l5.2 -5.2" stroke="#222" stroke-width="0.95" fill="none"/>
<path d="M512.1 500.9l5.2 5.2M512.1 506.1l5.2 -5.2" stroke="#222" stroke-width="0.95" fill="none"/>
<path d="M512.1 497.85l5.2 5.2M512.1 503.05l5.2 -5.2" stroke="#222" stroke-width="0.95" fill="none"/>
<text x="323" y="298" font-size="10.95">(Enlarged)</text>
<text x="50.4" y="547.7" font-weight="bold" font-size="10.8">(c) Alanine</text>
<path d="M46.5 771.5H264.5M46.5 553.5H264.5M46.5 771.5V553.5M264.5 771.5V553.5M46.5 771.5v4M46.5 553.5v-4M57.4 771.5v2.2M57.4 553.5v-2.2M68.3 771.5v2.2M68.3 553.5v-2.2M79.2 771.5v2.2M79.2 553.5v-2.2M90.1 771.5v4M90.1 553.5v-4M101 771.5v2.2M101 553.5v-2.2M111.9 771.5v2.2M111.9 553.5v-2.2M122.8 771.5v2.2M122.8 553.5v-2.2M133.7 771.5v4M133.7 553.5v-4M144.6 771.5v2.2M144.6 553.5v-2.2M155.5 771.5v2.2M155.5 553.5v-2.2M166.4 771.5v2.2M166.4 553.5v-2.2M177.3 771.5v4M177.3 553.5v-4M188.2 771.5v2.2M188.2 553.5v-2.2M199.1 771.5v2.2M199.1 553.5v-2.2M210 771.5v2.2M210 553.5v-2.2M220.9 771.5v4M220.9 553.5v-4M231.8 771.5v2.2M231.8 553.5v-2.2M242.7 771.5v2.2M242.7 553.5v-2.2M253.6 771.5v2.2M253.6 553.5v-2.2M264.5 771.5v4M264.5 553.5v-4M46.5 771.5h-4M264.5 771.5h4M46.5 762.78h-2.2M264.5 762.78h2.2M46.5 754.06h-2.2M264.5 754.06h2.2M46.5 745.34h-2.2M264.5 745.34h2.2M46.5 736.62h-2.2M264.5 736.62h2.2M46.5 727.9h-4M264.5 727.9h4M46.5 719.18h-2.2M264.5 719.18h2.2M46.5 710.46h-2.2M264.5 710.46h2.2M46.5 701.74h-2.2M264.5 701.74h2.2M46.5 693.02h-2.2M264.5 693.02h2.2M46.5 684.3h-4M264.5 684.3h4M46.5 675.58h-2.2M264.5 675.58h2.2M46.5 666.86h-2.2M264.5 666.86h2.2M46.5 658.14h-2.2M264.5 658.14h2.2M46.5 649.42h-2.2M264.5 649.42h2.2M46.5 640.7h-4M264.5 640.7h4M46.5 631.98h-2.2M264.5 631.98h2.2M46.5 623.26h-2.2M264.5 623.26h2.2M46.5 614.54h-2.2M264.5 614.54h2.2M46.5 605.82h-2.2M264.5 605.82h2.2M46.5 597.1h-4M264.5 597.1h4M46.5 588.38h-2.2M264.5 588.38h2.2M46.5 579.66h-2.2M264.5 579.66h2.2M46.5 570.94h-2.2M264.5 570.94h2.2M46.5 562.22h-2.2M264.5 562.22h2.2M46.5 553.5h-4M264.5 553.5h4" stroke="#1c1c1c" stroke-width="1.15" fill="none"/>
<text x="46.5" y="786.1" text-anchor="middle">0</text>
<text x="90.1" y="786.1" text-anchor="middle">200</text>
<text x="133.7" y="786.1" text-anchor="middle">400</text>
<text x="177.3" y="786.1" text-anchor="middle">600</text>
<text x="220.9" y="786.1" text-anchor="middle">800</text>
<text x="264.5" y="786.1" text-anchor="middle">1000</text>
<text x="41.2" y="774.7" text-anchor="end">0</text>
<text x="41.2" y="731.1" text-anchor="end">1000</text>
<text x="41.2" y="687.5" text-anchor="end">2000</text>
<text x="41.2" y="643.9" text-anchor="end">3000</text>
<text x="41.2" y="600.3" text-anchor="end">4000</text>
<text x="41.2" y="556.7" text-anchor="end">5000</text>
<text x="156.2" y="802.6" text-anchor="middle" font-size="9.9">Total dose/kGy</text>
<text transform="translate(11.1 662.5) rotate(-90)" text-anchor="middle" font-size="9.9">Concentration/µM</text>
<line x1="46.5" y1="763.25" x2="264.5" y2="759.24" stroke="#3c7cf0" stroke-width="1.2" stroke-dasharray="1.18 1.18"/>
<line x1="46.5" y1="770.68" x2="264.5" y2="756.24" stroke="#f47a30" stroke-width="1.2" stroke-dasharray="1.18 1.18"/>
<line x1="46.5" y1="765.83" x2="264.5" y2="572.59" stroke="#ee1c88" stroke-width="1.45" stroke-dasharray="1.57 1.57"/>
<line x1="46.5" y1="771.33" x2="264.5" y2="758.55" stroke="#2c7c3c" stroke-width="1.2" stroke-dasharray="1.18 1.18"/>
<rect x="43.75" y="768.13" width="5.5" height="5.5" stroke="#f47a30" stroke-width="0.8" fill="none" opacity="0.85"/>
<rect x="45.71" y="767.81" width="5.5" height="5.5" stroke="#f47a30" stroke-width="0.8" fill="none" opacity="0.85"/>
<rect x="63.37" y="763.74" width="5.5" height="5.5" stroke="#f47a30" stroke-width="0.8" fill="none" opacity="0.85"/>
<rect x="63.37" y="767.09" width="5.5" height="5.5" stroke="#f47a30" stroke-width="0.8" fill="none" opacity="0.85"/>
<rect x="63.37" y="767.62" width="5.5" height="5.5" stroke="#f47a30" stroke-width="0.8" fill="none" opacity="0.85"/>
<rect x="63.37" y="767.79" width="5.5" height="5.5" stroke="#f47a30" stroke-width="0.8" fill="none" opacity="0.85"/>
<rect x="239.95" y="752.53" width="5.5" height="5.5" stroke="#f47a30" stroke-width="0.8" fill="none" opacity="0.85"/>
<rect x="239.95" y="755.67" width="5.5" height="5.5" stroke="#f47a30" stroke-width="0.8" fill="none" opacity="0.85"/>
<circle cx="46.5" cy="770.02" r="2.45" stroke="#ee1c88" stroke-width="0.8" fill="none" opacity="0.85"/>
<circle cx="46.5" cy="770.27" r="2.45" stroke="#ee1c88" stroke-width="0.8" fill="none" opacity="0.85"/>
<circle cx="46.5" cy="770.41" r="2.45" stroke="#ee1c88" stroke-width="0.8" fill="none" opacity="0.85"/>
<circle cx="48.46" cy="766.41" r="2.45" stroke="#ee1c88" stroke-width="0.8" fill="none" opacity="0.85"/>
<circle cx="48.46" cy="766.93" r="2.45" stroke="#ee1c88" stroke-width="0.8" fill="none" opacity="0.85"/>
<circle cx="66.12" cy="731.78" r="2.45" stroke="#ee1c88" stroke-width="0.8" fill="none" opacity="0.85"/>
<circle cx="66.12" cy="743.99" r="2.45" stroke="#ee1c88" stroke-width="0.8" fill="none" opacity="0.85"/>
<circle cx="66.12" cy="745.51" r="2.45" stroke="#ee1c88" stroke-width="0.8" fill="none" opacity="0.85"/>
<circle cx="66.12" cy="751.79" r="2.45" stroke="#ee1c88" stroke-width="0.8" fill="none" opacity="0.85"/>
<circle cx="242.7" cy="576.91" r="2.45" stroke="#ee1c88" stroke-width="0.8" fill="none" opacity="0.85"/>
<circle cx="242.7" cy="608.92" r="2.45" stroke="#ee1c88" stroke-width="0.8" fill="none" opacity="0.85"/>
<path d="M46.5 768.36l2.4 2.4l-2.4 2.4l-2.4 -2.4z" stroke="#3c7cf0" stroke-width="1.1" fill="none"/>
<path d="M46.5 768.7l2.4 2.4l-2.4 2.4l-2.4 -2.4z" stroke="#3c7cf0" stroke-width="1.1" fill="none"/>
<path d="M46.5 736.62l2.4 2.4l-2.4 2.4l-2.4 -2.4z" stroke="#3c7cf0" stroke-width="1.1" fill="none"/>
<path d="M48.46 768.72l2.4 2.4l-2.4 2.4l-2.4 -2.4z" stroke="#3c7cf0" stroke-width="1.1" fill="none"/>
<path d="M48.46 768.76l2.4 2.4l-2.4 2.4l-2.4 -2.4z" stroke="#3c7cf0" stroke-width="1.1" fill="none"/>
<path d="M48.46 749.09l2.4 2.4l-2.4 2.4l-2.4 -2.4z" stroke="#3c7cf0" stroke-width="1.1" fill="none"/>
<path d="M52.82 732.39l2.4 2.4l-2.4 2.4l-2.4 -2.4z" stroke="#3c7cf0" stroke-width="1.1" fill="none"/>
<path d="M66.12 762.87l2.4 2.4l-2.4 2.4l-2.4 -2.4z" stroke="#3c7cf0" stroke-width="1.1" fill="none"/>
<path d="M66.12 768.4l2.4 2.4l-2.4 2.4l-2.4 -2.4z" stroke="#3c7cf0" stroke-width="1.1" fill="none"/>
<path d="M66.12 769.03l2.4 2.4l-2.4 2.4l-2.4 -2.4z" stroke="#3c7cf0" stroke-width="1.1" fill="none"/>
<path d="M66.12 769.08l2.4 2.4l-2.4 2.4l-2.4 -2.4z" stroke="#3c7cf0" stroke-width="1.1" fill="none"/>
<path d="M242.7 756.59l2.4 2.4l-2.4 2.4l-2.4 -2.4z" stroke="#3c7cf0" stroke-width="1.1" fill="none"/>
<path d="M242.7 758.2l2.4 2.4l-2.4 2.4l-2.4 -2.4z" stroke="#3c7cf0" stroke-width="1.1" fill="none"/>
<rect x="43.75" y="768.73" width="5.5" height="5.5" stroke="#2c7c3c" stroke-width="0.8" fill="none" opacity="0.85"/>
<rect x="45.71" y="768.57" width="5.5" height="5.5" stroke="#2c7c3c" stroke-width="0.8" fill="none" opacity="0.85"/>
<rect x="45.71" y="768.66" width="5.5" height="5.5" stroke="#2c7c3c" stroke-width="0.8" fill="none" opacity="0.85"/>
<rect x="63.37" y="766.53" width="5.5" height="5.5" stroke="#2c7c3c" stroke-width="0.8" fill="none" opacity="0.85"/>
<rect x="63.37" y="767.44" width="5.5" height="5.5" stroke="#2c7c3c" stroke-width="0.8" fill="none" opacity="0.85"/>
<rect x="63.37" y="767.88" width="5.5" height="5.5" stroke="#2c7c3c" stroke-width="0.8" fill="none" opacity="0.85"/>
<rect x="63.37" y="767.97" width="5.5" height="5.5" stroke="#2c7c3c" stroke-width="0.8" fill="none" opacity="0.85"/>
<rect x="239.95" y="756.54" width="5.5" height="5.5" stroke="#2c7c3c" stroke-width="0.8" fill="none" opacity="0.85"/>
<rect x="239.95" y="757.41" width="5.5" height="5.5" stroke="#2c7c3c" stroke-width="0.8" fill="none" opacity="0.85"/>
<path d="M43.9 768.9l5.2 5.2M43.9 774.1l5.2 -5.2" stroke="#222" stroke-width="0.95" fill="none"/>
<path d="M45.86 768.9l5.2 5.2M45.86 774.1l5.2 -5.2" stroke="#222" stroke-width="0.95" fill="none"/>
<path d="M63.52 768.9l5.2 5.2M63.52 774.1l5.2 -5.2" stroke="#222" stroke-width="0.95" fill="none"/>
<path d="M240.1 768.9l5.2 5.2M240.1 774.1l5.2 -5.2" stroke="#222" stroke-width="0.95" fill="none"/>
<path d="M46.9 762.78H68.74V771.3H46.9Z" stroke="#ff1a1a" stroke-width="1.5" fill="none" stroke-dasharray="3 2.6"/>
<rect x="48.4" y="555.3" width="79" height="59" fill="#fff" stroke="#555" stroke-width="1"/>
<line x1="51.8" y1="564.3" x2="74" y2="564.3" stroke="#3c7cf0" stroke-width="1" stroke-dasharray="1.3 1.3"/>
<path d="M63.4 561.9l2.4 2.4l-2.4 2.4l-2.4 -2.4z" stroke="#3c7cf0" stroke-width="1.3" fill="none"/>
<text x="76" y="568.6" fill="#3c7cf0" color="#3c7cf0">FAW(5)</text>
<line x1="51.8" y1="574.5" x2="74" y2="574.5" stroke="#f47a30" stroke-width="1" stroke-dasharray="1.3 1.3"/>
<rect x="60.65" y="571.75" width="5.5" height="5.5" stroke="#f47a30" stroke-width="0.7" fill="none" opacity="0.6"/>
<text x="76" y="578.8" fill="#f47a30" color="#f47a30">FAW(10)</text>
<line x1="51.8" y1="584.7" x2="74" y2="584.7" stroke="#ee1c88" stroke-width="1" stroke-dasharray="1.3 1.3"/>
<circle cx="63.4" cy="584.7" r="2.45" stroke="#ee1c88" stroke-width="0.7" fill="none" opacity="0.6"/>
<text x="76" y="589" fill="#ee1c88" color="#ee1c88">FAW(5/10)</text>
<path d="M60.8 592.3l5.2 5.2M60.8 597.5l5.2 -5.2" stroke="#222" stroke-width="0.9" fill="none"/>
<text x="76" y="599.2" fill="#222" color="#222">FAW(5/0)</text>
<line x1="51.8" y1="605.1" x2="74" y2="605.1" stroke="#2c7c3c" stroke-width="1" stroke-dasharray="1.3 1.3"/>
<rect x="60.65" y="602.35" width="5.5" height="5.5" stroke="#2c7c3c" stroke-width="0.7" fill="none" opacity="0.6"/>
<text x="76" y="609.4" fill="#2c7c3c" color="#2c7c3c">HMT(rt)</text>
<line x1="49" y1="619.6" x2="70" y2="619.6" stroke="#3c7cf0" stroke-width="1" stroke-dasharray="1.3 1.3"/>
<text x="72.3" y="624.9" fill="#3c7cf0" color="#3c7cf0" font-size="9.82" xml:space="preserve">y = 189.17 + 0.091928x   R<tspan font-size="6" dy="-3.9">2</tspan><tspan dy="3.9">= 0.010119</tspan></text>
<line x1="49" y1="629.35" x2="70" y2="629.35" stroke="#f47a30" stroke-width="1" stroke-dasharray="1.3 1.3"/>
<text x="72.3" y="634.65" fill="#f47a30" color="#f47a30" font-size="9.82" xml:space="preserve">y = 18.907 + 0.33098x   R<tspan font-size="6" dy="-3.9">2</tspan><tspan dy="3.9">= 0.9126</tspan></text>
<line x1="49" y1="639.1" x2="70" y2="639.1" stroke="#ee1c88" stroke-width="1" stroke-dasharray="1.3 1.3"/>
<text x="72.3" y="644.4" fill="#ee1c88" color="#ee1c88" font-size="9.82" xml:space="preserve">y = 130.11 + 4.4321x   R<tspan font-size="6" dy="-3.9">2</tspan><tspan dy="3.9">= 0.98077</tspan></text>
<line x1="49" y1="648.85" x2="70" y2="648.85" stroke="#2c7c3c" stroke-width="1" stroke-dasharray="1.3 1.3"/>
<text x="72.3" y="654.15" fill="#2c7c3c" color="#2c7c3c" font-size="9.82" xml:space="preserve">y = 3.8158 + 0.29319x   R<tspan font-size="6" dy="-3.9">2</tspan><tspan dy="3.9">= 0.98527</tspan></text>
<path d="M318.5 771.5H536.5M318.5 553.5H536.5M318.5 771.5V553.5M536.5 771.5V553.5M318.5 771.5v4M318.5 553.5v-4M329.4 771.5v2.2M329.4 553.5v-2.2M340.3 771.5v2.2M340.3 553.5v-2.2M351.2 771.5v2.2M351.2 553.5v-2.2M362.1 771.5v4M362.1 553.5v-4M373 771.5v2.2M373 553.5v-2.2M383.9 771.5v2.2M383.9 553.5v-2.2M394.8 771.5v2.2M394.8 553.5v-2.2M405.7 771.5v4M405.7 553.5v-4M416.6 771.5v2.2M416.6 553.5v-2.2M427.5 771.5v2.2M427.5 553.5v-2.2M438.4 771.5v2.2M438.4 553.5v-2.2M449.3 771.5v4M449.3 553.5v-4M460.2 771.5v2.2M460.2 553.5v-2.2M471.1 771.5v2.2M471.1 553.5v-2.2M482 771.5v2.2M482 553.5v-2.2M492.9 771.5v4M492.9 553.5v-4M503.8 771.5v2.2M503.8 553.5v-2.2M514.7 771.5v2.2M514.7 553.5v-2.2M525.6 771.5v2.2M525.6 553.5v-2.2M536.5 771.5v4M536.5 553.5v-4M318.5 771.5h-4M536.5 771.5h4M318.5 760.6h-2.2M536.5 760.6h2.2M318.5 749.7h-2.2M536.5 749.7h2.2M318.5 738.8h-2.2M536.5 738.8h2.2M318.5 727.9h-2.2M536.5 727.9h2.2M318.5 717h-4M536.5 717h4M318.5 706.1h-2.2M536.5 706.1h2.2M318.5 695.2h-2.2M536.5 695.2h2.2M318.5 684.3h-2.2M536.5 684.3h2.2M318.5 673.4h-2.2M536.5 673.4h2.2M318.5 662.5h-4M536.5 662.5h4M318.5 651.6h-2.2M536.5 651.6h2.2M318.5 640.7h-2.2M536.5 640.7h2.2M318.5 629.8h-2.2M536.5 629.8h2.2M318.5 618.9h-2.2M536.5 618.9h2.2M318.5 608h-4M536.5 608h4M318.5 597.1h-2.2M536.5 597.1h2.2M318.5 586.2h-2.2M536.5 586.2h2.2M318.5 575.3h-2.2M536.5 575.3h2.2M318.5 564.4h-2.2M536.5 564.4h2.2M318.5 553.5h-4M536.5 553.5h4" stroke="#1c1c1c" stroke-width="1.15" fill="none"/>
<text x="318.5" y="786.1" text-anchor="middle">0</text>
<text x="362.1" y="786.1" text-anchor="middle">20</text>
<text x="405.7" y="786.1" text-anchor="middle">40</text>
<text x="449.3" y="786.1" text-anchor="middle">60</text>
<text x="492.9" y="786.1" text-anchor="middle">80</text>
<text x="536.5" y="786.1" text-anchor="middle">100</text>
<text x="313.2" y="774.7" text-anchor="end">0</text>
<text x="313.2" y="720.2" text-anchor="end">50</text>
<text x="313.2" y="665.7" text-anchor="end">100</text>
<text x="313.2" y="611.2" text-anchor="end">150</text>
<text x="313.2" y="556.7" text-anchor="end">200</text>
<text x="428.2" y="802.6" text-anchor="middle" font-size="9.9">Total dose/kGy</text>
<text transform="translate(283.3 662.5) rotate(-90)" text-anchor="middle" font-size="9.9">Concentration/µM</text>
<line x1="318.5" y1="565.3" x2="536.5" y2="555.28" stroke="#3c7cf0" stroke-width="1.2" stroke-dasharray="1.18 1.18"/>
<line x1="318.5" y1="750.89" x2="536.5" y2="714.81" stroke="#f47a30" stroke-width="1.2" stroke-dasharray="1.19 1.19"/>
<line x1="318.5" y1="629.68" x2="352.88" y2="553.5" stroke="#ee1c88" stroke-width="1.45" stroke-dasharray="1.29 1.29"/>
<line x1="318.5" y1="767.34" x2="536.5" y2="735.38" stroke="#2c7c3c" stroke-width="1.2" stroke-dasharray="1.19 1.19"/>
<rect x="315.75" y="753.27" width="5.5" height="5.5" stroke="#f47a30" stroke-width="0.8" fill="none" opacity="0.85"/>
<rect x="335.37" y="745.21" width="5.5" height="5.5" stroke="#f47a30" stroke-width="0.8" fill="none" opacity="0.85"/>
<rect x="511.95" y="643.4" width="5.5" height="5.5" stroke="#f47a30" stroke-width="0.8" fill="none" opacity="0.85"/>
<rect x="511.95" y="727.33" width="5.5" height="5.5" stroke="#f47a30" stroke-width="0.8" fill="none" opacity="0.85"/>
<rect x="511.95" y="740.41" width="5.5" height="5.5" stroke="#f47a30" stroke-width="0.8" fill="none" opacity="0.85"/>
<rect x="511.95" y="744.77" width="5.5" height="5.5" stroke="#f47a30" stroke-width="0.8" fill="none" opacity="0.85"/>
<circle cx="318.5" cy="734.55" r="2.45" stroke="#ee1c88" stroke-width="0.8" fill="none" opacity="0.85"/>
<circle cx="318.5" cy="740.65" r="2.45" stroke="#ee1c88" stroke-width="0.8" fill="none" opacity="0.85"/>
<circle cx="318.5" cy="744.25" r="2.45" stroke="#ee1c88" stroke-width="0.8" fill="none" opacity="0.85"/>
<circle cx="338.12" cy="644.3" r="2.45" stroke="#ee1c88" stroke-width="0.8" fill="none" opacity="0.85"/>
<circle cx="338.12" cy="657.27" r="2.45" stroke="#ee1c88" stroke-width="0.8" fill="none" opacity="0.85"/>
<path d="M318.5 750.68l2.4 2.4l-2.4 2.4l-2.4 -2.4z" stroke="#3c7cf0" stroke-width="1.1" fill="none"/>
<path d="M318.5 759.07l2.4 2.4l-2.4 2.4l-2.4 -2.4z" stroke="#3c7cf0" stroke-width="1.1" fill="none"/>
<path d="M338.12 759.62l2.4 2.4l-2.4 2.4l-2.4 -2.4z" stroke="#3c7cf0" stroke-width="1.1" fill="none"/>
<path d="M338.12 760.6l2.4 2.4l-2.4 2.4l-2.4 -2.4z" stroke="#3c7cf0" stroke-width="1.1" fill="none"/>
<path d="M514.7 613.23l2.4 2.4l-2.4 2.4l-2.4 -2.4z" stroke="#3c7cf0" stroke-width="1.1" fill="none"/>
<path d="M514.7 751.66l2.4 2.4l-2.4 2.4l-2.4 -2.4z" stroke="#3c7cf0" stroke-width="1.1" fill="none"/>
<path d="M514.7 767.47l2.4 2.4l-2.4 2.4l-2.4 -2.4z" stroke="#3c7cf0" stroke-width="1.1" fill="none"/>
<path d="M514.7 768.56l2.4 2.4l-2.4 2.4l-2.4 -2.4z" stroke="#3c7cf0" stroke-width="1.1" fill="none"/>
<rect x="315.75" y="768.21" width="5.5" height="5.5" stroke="#2c7c3c" stroke-width="0.8" fill="none" opacity="0.85"/>
<rect x="335.37" y="764.28" width="5.5" height="5.5" stroke="#2c7c3c" stroke-width="0.8" fill="none" opacity="0.85"/>
<rect x="335.37" y="766.57" width="5.5" height="5.5" stroke="#2c7c3c" stroke-width="0.8" fill="none" opacity="0.85"/>
<rect x="511.95" y="713.16" width="5.5" height="5.5" stroke="#2c7c3c" stroke-width="0.8" fill="none" opacity="0.85"/>
<rect x="511.95" y="736.05" width="5.5" height="5.5" stroke="#2c7c3c" stroke-width="0.8" fill="none" opacity="0.85"/>
<rect x="511.95" y="746.95" width="5.5" height="5.5" stroke="#2c7c3c" stroke-width="0.8" fill="none" opacity="0.85"/>
<rect x="511.95" y="749.13" width="5.5" height="5.5" stroke="#2c7c3c" stroke-width="0.8" fill="none" opacity="0.85"/>
<path d="M315.9 768.9l5.2 5.2M315.9 774.1l5.2 -5.2" stroke="#222" stroke-width="0.95" fill="none"/>
<path d="M335.52 768.9l5.2 5.2M335.52 774.1l5.2 -5.2" stroke="#222" stroke-width="0.95" fill="none"/>
<path d="M512.1 768.9l5.2 5.2M512.1 774.1l5.2 -5.2" stroke="#222" stroke-width="0.95" fill="none"/>
<text x="480.6" y="566.3" font-size="10.95">(Enlarged)</text>
</svg>
</body></html>
